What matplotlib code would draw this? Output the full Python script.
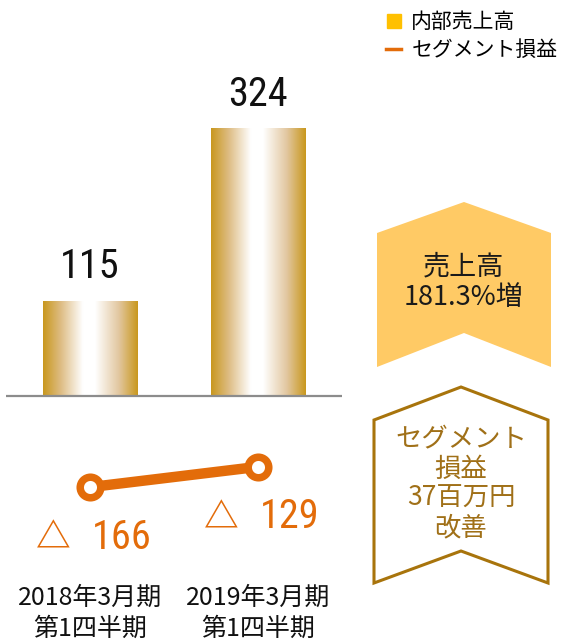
import numpy as np
import matplotlib.pyplot as plt
from matplotlib.colors import LinearSegmentedColormap
from matplotlib.lines import Line2D
from matplotlib.patches import Polygon

plt.rcParams['font.family'] = ['Noto Sans CJK JP', 'DejaVu Sans']

# data
periods = ['2018年3月期\n第1四半期', '2019年3月期\n第1四半期']
sales = [115, 324]          # 内部売上高
segment = [-166, -129]      # セグメント損益
legend_labels = ['内部売上高', 'セグメント損益']
badge1_text = '売上高\n181.3%増'
badge2_text = 'セグメント\n損益\n37百万円\n改善'

GOLD = '#C9981E'
ORANGE = '#E36C0A'
YELLOW = '#FFC000'
BADGE_FILL = '#FFCA65'
BROWN = '#A8740C'
NARROW = ['Roboto Condensed', 'Archivo Narrow', 'DejaVu Sans']

W, H = 563, 641
fig = plt.figure(figsize=(W / 100, H / 100), dpi=100)

# main axes: baseline from x=6 to 342 px, full height
ax = fig.add_axes([6 / W, 0, 336 / W, 1])
base_px = H - 396          # baseline height from bottom in px
ylim_bar = (-base_px / 0.827, (H - base_px) / 0.827)
ax.axis('off')

x = np.arange(len(sales))
bars = ax.bar(x, sales, width=0.56, color='none', edgecolor='none', zorder=2)

# horizontal gold -> white -> gold gradient
grad_cmap = LinearSegmentedColormap.from_list(
    'gold', [(0, GOLD), (0.18, '#DDBB80'), (0.42, '#FFFFFF'),
             (0.55, '#FFFFFF'), (0.8, '#E2C7A0'), (1, GOLD)])
grad = np.linspace(0, 1, 256).reshape(1, -1)
for b in bars:
    im = ax.imshow(grad, cmap=grad_cmap, aspect='auto', zorder=2,
                   extent=[b.get_x(), b.get_x() + b.get_width(), 0, b.get_height()])
    im.set_clip_path(b)
ax.set_xlim(-0.5, 1.5)
ax.set_ylim(*ylim_bar)

ax.axhline(0, color='#8C8C8C', lw=1.6, zorder=3)

for xi, v in zip(x, sales):
    ax.annotate(str(v), (xi, v), xytext=(0, 34 * 0.72), textcoords='offset points',
                ha='center', va='center', fontsize=29, family=NARROW, color='#111111')

for xi, lab in zip(x, periods):
    ax.annotate(lab, (xi, 0), xytext=(0, -217 * 0.72), textcoords='offset points',
                ha='center', va='center', fontsize=18, linespacing=1.25, color='#111111',
                annotation_clip=False)

# segment profit on its own scale, same zero line
ax2 = ax.twinx()
ax2.set_ylim(-base_px / 0.549, (H - base_px) / 0.549)
ax2.axis('off')
ax2.plot(x, segment, color=ORANGE, lw=7.5, marker='o', ms=14.8, mew=5.4,
         mfc='white', mec=ORANGE, solid_capstyle='butt', zorder=4)
for xi, v in zip(x, segment):
    # △ marks a loss
    ax2.annotate('△', (xi, v), xytext=(-37 * 0.72, -51 * 0.72),
                 textcoords='offset points', ha='center', va='center',
                 fontsize=25, weight='bold', color=ORANGE)
    ax2.annotate(str(abs(v)), (xi, v), xytext=(2 * 0.72, -50 * 0.72),
                 textcoords='offset points', ha='left', va='center',
                 fontsize=29, family=NARROW, color=ORANGE)

# legend
handles = [Line2D([], [], marker='s', ms=9.5, color=YELLOW, ls='none'),
           Line2D([], [], color=ORANGE, lw=2.5)]
fig.legend(handles, legend_labels, loc='upper left', frameon=False,
           bbox_to_anchor=(386 / W, 1 - 11 / H), fontsize=15,
           handlelength=0.72, handletextpad=0.5, labelspacing=0.28,
           borderpad=0, borderaxespad=0)

# badges (pixel overlay)
ov = fig.add_axes([0, 0, 1, 1], zorder=5)
ov.set_xlim(0, W)
ov.set_ylim(H, 0)
ov.axis('off')
ov.patch.set_alpha(0)

ov.add_patch(Polygon([(377, 233), (464, 202), (551, 233), (551, 367),
                      (464, 333), (377, 367)], closed=True,
                     facecolor=BADGE_FILL, edgecolor='none'))
ov.text(464, 282, badge1_text, ha='center', va='center', fontsize=19.5,
        linespacing=1.15, color='#1A1A1A')

ov.add_patch(Polygon([(374, 420), (461, 387), (548, 420), (548, 583),
                      (461, 551), (374, 583)], closed=True,
                     facecolor='white', edgecolor=BROWN, lw=2.2))
ov.text(461, 484, badge2_text, ha='center', va='center', fontsize=19,
        linespacing=1.12, color='#A07018')

fig.savefig('out.png', dpi=100)
